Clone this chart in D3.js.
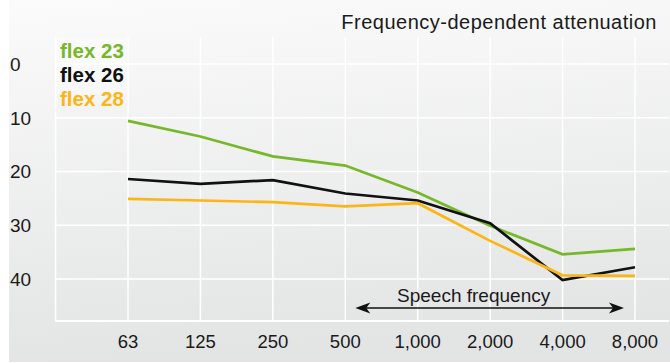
<!DOCTYPE html>
<html><head><meta charset="utf-8">
<script src="https://cdn.jsdelivr.net/npm/d3@7"></script>
<style>html,body{margin:0;padding:0;background:#fff;}svg{display:block;font-family:"Liberation Sans",Arial,sans-serif;}</style>
</head><body>
<script>
const categories = ["63","125","250","500","1,000","2,000","4,000","8,000"];
const yTicks = [0,10,20,30,40];
const flex23 = [10.6,13.5,17.2,18.9,23.9,30.1,35.4,34.4];
const flex26 = [21.4,22.3,21.6,24.1,25.4,29.6,40.2,37.8];
const flex28 = [25.1,25.4,25.7,26.5,25.9,32.9,39.3,39.4];
const seriesNames = ["flex 23","flex 26","flex 28"];
const seriesColors = ["#76b82a","#111111","#fdb515"];
const title = "Frequency-dependent attenuation";
const speechLabel = "Speech frequency";

const W=670,H=363;
const svg=d3.select("body").append("svg").attr("width",W).attr("height",H);
const defs=svg.append("defs");
const g=defs.append("linearGradient").attr("id","bg").attr("x1",0).attr("y1",0).attr("x2",0.15).attr("y2",1);
g.append("stop").attr("offset","0").attr("stop-color","#fbfbfb");
g.append("stop").attr("offset","1").attr("stop-color","#e3e4e4");
svg.append("rect").attr("x",9).attr("y",0).attr("width",W-9).attr("height",H-1).attr("fill","url(#bg)");

const x=d3.scaleLinear().domain([0,7]).range([128,635]);
const y=d3.scaleLinear().domain([-5,47.8]).range([37,321]);
const left=x(-1), right=669;

// grid
const grid=svg.append("g").attr("stroke","#fff").attr("stroke-width",1.5);
grid.selectAll(".h").data(yTicks).enter().append("line")
  .attr("x1",left).attr("x2",right).attr("y1",d=>y(d)).attr("y2",d=>y(d));
grid.selectAll(".v").data(d3.range(-1,8)).enter().append("line")
  .attr("x1",d=>x(d)).attr("x2",d=>x(d)).attr("y1",y(-5)).attr("y2",y(47.8));
grid.append("line").attr("x1",left).attr("x2",right).attr("y1",y(47.8)).attr("y2",y(47.8)).attr("stroke-width",2);

// legend backdrop
svg.append("rect").attr("x",left).attr("y",38).attr("width",71).attr("height",56).attr("fill","#fff").attr("opacity",0.35);

// y labels
svg.append("g").selectAll("text").data(yTicks).enter().append("text")
  .attr("x",10).attr("y",d=>y(d)).attr("dy","0.36em").attr("font-size",19).attr("fill","#1a1a1a").text(d=>d);
// x labels
svg.append("g").selectAll("text").data(categories).enter().append("text")
  .attr("x",(d,i)=>x(i)).attr("y",348).attr("text-anchor","middle").attr("font-size",18.5).attr("fill","#1a1a1a").text(d=>d);

// title
svg.append("text").attr("x",657).attr("y",29).attr("text-anchor","end").attr("font-size",20).attr("letter-spacing",0.5).attr("fill","#1a1a1a").text(title);

// lines
const line=d3.line().x((d,i)=>x(i)).y(d=>y(d));
[flex23,flex26,flex28].forEach((s,k)=>{
  svg.append("path").datum(s).attr("d",line).attr("fill","none").attr("stroke",seriesColors[k]).attr("stroke-width",2.7).attr("stroke-linejoin","miter");
});

// legend
svg.append("g").selectAll("text").data(seriesNames).enter().append("text")
  .attr("x",60).attr("y",(d,i)=>58+i*24).attr("font-size",20.5).attr("font-weight","bold").attr("fill",(d,i)=>seriesColors[i]).text(d=>d);

// speech arrow
const ax1=x(3)+10, ax2=x(7)-11, ay=308;
svg.append("line").attr("x1",ax1+6).attr("x2",ax2-6).attr("y1",ay).attr("y2",ay).attr("stroke","#111").attr("stroke-width",1.3);
const head=(tx,dir)=>`M${tx},${ay} L${tx+dir*15},${ay-5.5} L${tx+dir*11},${ay} L${tx+dir*15},${ay+5.5} Z`;
svg.append("path").attr("d",head(ax1,1)).attr("fill","#111");
svg.append("path").attr("d",head(ax2,-1)).attr("fill","#111");
svg.append("text").attr("x",(ax1+ax2)/2-16).attr("y",302).attr("text-anchor","middle").attr("font-size",19).attr("fill","#1a1a1a").text(speechLabel);
</script>
</body></html>
